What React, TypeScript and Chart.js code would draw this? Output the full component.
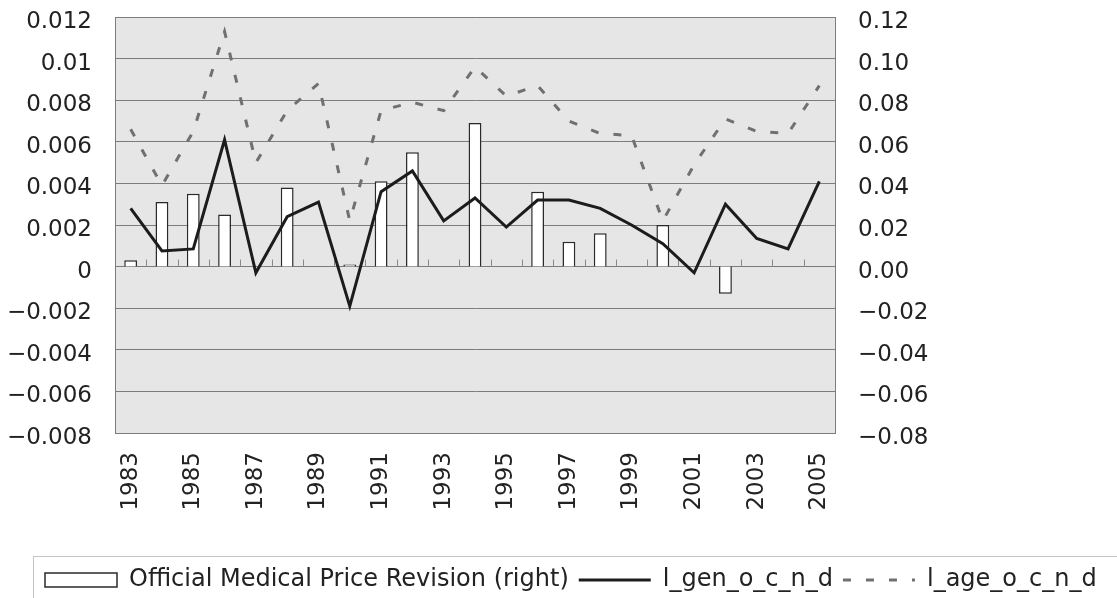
import React, { useEffect, useRef } from 'react';
import { Chart, registerables } from 'chart.js';

Chart.register(...registerables);

const years = ['1983', '1984', '1985', '1986', '1987', '1988', '1989', '1990', '1991', '1992', '1993', '1994', '1995', '1996', '1997', '1998', '1999', '2000', '2001', '2002', '2003', '2004', '2005'];

// Official Medical Price Revision (right axis)
const priceRevision = [0.003, 0.031, 0.035, 0.025, null, 0.038, null, 0.001, 0.041, 0.055, null, 0.069, null, 0.036, 0.012, 0.016, null, 0.020, null, -0.013, null, null, null];

// l_gen_o_c_n_d (left axis)
const lGen = [0.0028, 0.00075, 0.00085, 0.0061, -0.0003, 0.0024, 0.0031, -0.0019, 0.0036, 0.0046, 0.0022, 0.0033, 0.0019, 0.0032, 0.0032, 0.0028, 0.002, 0.0011, -0.0003, 0.003, 0.00135, 0.00085, 0.0041];

// l_age_o_c_n_d (left axis)
const lAge = [0.0066, 0.0039, 0.0065, 0.0113, 0.005, 0.0075, 0.0088, 0.0022, 0.0075, 0.0079, 0.0075, 0.0096, 0.0082, 0.0087, 0.007, 0.0064, 0.0063, 0.0022, 0.0049, 0.0071, 0.0065, 0.0064, 0.0087];

const leftTickValues = [-0.008, -0.006, -0.004, -0.002, 0, 0.002, 0.004, 0.006, 0.008, 0.01, 0.012];
const leftTickLabels = ['\u22120.008', '\u22120.006', '\u22120.004', '\u22120.002', '0', '0.002', '0.004', '0.006', '0.008', '0.01', '0.012'];
const rightTickValues = [-0.08, -0.06, -0.04, -0.02, 0, 0.02, 0.04, 0.06, 0.08, 0.1, 0.12];
const rightTickLabels = ['\u22120.08', '\u22120.06', '\u22120.04', '\u22120.02', '0.00', '0.02', '0.04', '0.06', '0.08', '0.10', '0.12'];

const seriesLabels = ['Official Medical Price Revision (right)', 'l_gen_o_c_n_d', 'l_age_o_c_n_d'];

const FONT = '"DejaVu Sans", "Liberation Sans", sans-serif';
const GRID = '#7c7c7c';
const TEXT = '#222222';

const plotBackground = {
  id: 'plotBackground',
  beforeDraw(chart: any) {
    const { ctx, chartArea } = chart;
    ctx.save();
    ctx.fillStyle = '#e6e6e6';
    ctx.fillRect(chartArea.left, chartArea.top, chartArea.right - chartArea.left, chartArea.bottom - chartArea.top);
    ctx.restore();
  },
};

const zeroTicks = {
  id: 'zeroTicks',
  beforeDatasetsDraw(chart: any) {
    const { ctx } = chart;
    const xs = chart.scales.x;
    const ys = chart.scales.y;
    const step = xs.getPixelForValue(1) - xs.getPixelForValue(0);
    const y0 = ys.getPixelForValue(0);
    ctx.save();
    ctx.strokeStyle = '#8a8a8a';
    ctx.lineWidth = 1;
    ctx.beginPath();
    for (let i = 1; i < years.length; i++) {
      const x = Math.round(xs.getPixelForValue(i) - step / 2) + 0.5;
      ctx.moveTo(x, y0);
      ctx.lineTo(x, y0 - 7);
    }
    ctx.stroke();
    ctx.restore();
  },
};

const legendShift = {
  id: 'legendShift',
  afterLayout(chart: any) {
    if (chart.legend) chart.legend.left = 35;
  },
};

const legendFrame = {
  id: 'legendFrame',
  afterDraw(chart: any) {
    const lg = chart.legend;
    if (!lg) return;
    const { ctx } = chart;
    ctx.save();
    ctx.strokeStyle = '#c4c4c4';
    ctx.lineWidth = 1;
    ctx.strokeRect(33.5, Math.round(lg.top) - 1.5, 1300, 200);
    ctx.restore();
  },
};

export default function App() {
  const canvasRef = useRef<HTMLCanvasElement | null>(null);

  useEffect(() => {
    if (!canvasRef.current) return;
    const chart = new Chart(canvasRef.current, {
      type: 'bar',
      data: {
        labels: years,
        datasets: [
          {
            type: 'bar',
            label: seriesLabels[0],
            data: priceRevision,
            yAxisID: 'y1',
            backgroundColor: '#ffffff',
            borderColor: '#2a2a2a',
            borderWidth: 1.5,
            barPercentage: 0.41,
            categoryPercentage: 1,
            order: 2,
            legendStyle: 'rect',
            legendFill: '#ffffff',
            legendLineWidth: 1.5,
          } as any,
          {
            type: 'line',
            label: seriesLabels[1],
            data: lGen,
            yAxisID: 'y',
            borderColor: '#1c1c1c',
            backgroundColor: '#1c1c1c',
            borderWidth: 3,
            pointRadius: 0,
            tension: 0,
            order: 0,
            legendStyle: 'line',
            legendFill: 'rgba(0,0,0,0)',
            legendLineWidth: 3,
          } as any,
          {
            type: 'line',
            label: seriesLabels[2],
            data: lAge,
            yAxisID: 'y',
            borderColor: '#707070',
            backgroundColor: '#707070',
            borderWidth: 3,
            borderDash: [8, 15],
            pointRadius: 0,
            tension: 0,
            order: 1,
            legendStyle: 'line',
            legendFill: 'rgba(0,0,0,0)',
            legendLineWidth: 3,
          } as any,
        ],
      },
      options: {
        animation: false,
        responsive: false,
        devicePixelRatio: 1,
        layout: { padding: { left: 0, top: 17, right: 0, bottom: 0 } },
        plugins: {
          tooltip: { enabled: false },
          legend: {
            position: 'bottom',
            align: 'start',
            labels: {
              usePointStyle: true,
              pointStyleWidth: 72,
              boxHeight: 14,
              padding: 10,
              color: TEXT,
              font: { family: FONT, size: 24 },
              generateLabels: (c: any) =>
                c.data.datasets.map((ds: any, i: number) => ({
                  text: ds.label,
                  fillStyle: ds.legendFill,
                  strokeStyle: ds.borderColor,
                  lineWidth: ds.legendLineWidth,
                  lineDash: ds.borderDash || [],
                  pointStyle: ds.legendStyle,
                  hidden: false,
                  datasetIndex: i,
                  fontColor: TEXT,
                })),
            },
          },
        },
        scales: {
          x: {
            grid: { display: false, drawTicks: false },
            border: { display: true, color: GRID },
            ticks: {
              autoSkip: false,
              maxRotation: 90,
              minRotation: 90,
              padding: 19,
              color: TEXT,
              font: { family: FONT, size: 23 },
              callback: (_v: any, i: number) => (i % 2 === 0 ? years[i] : ''),
            },
            afterFit: (s: any) => {
              s.height = 125;
            },
          },
          y: {
            position: 'left',
            min: -0.008,
            max: 0.012,
            afterBuildTicks: (s: any) => {
              s.ticks = leftTickValues.map((v) => ({ value: v }));
            },
            grid: { color: GRID, lineWidth: 1, drawTicks: false },
            border: { display: true, color: GRID },
            ticks: {
              padding: 23,
              labelOffset: 5,
              color: TEXT,
              font: { family: FONT, size: 23 },
              callback: (_v: any, i: number) => leftTickLabels[i],
            },
            afterFit: (s: any) => {
              s.width = 115;
              s.paddingTop = 10;
              s.paddingBottom = 10;
            },
          },
          y1: {
            position: 'right',
            min: -0.08,
            max: 0.12,
            afterBuildTicks: (s: any) => {
              s.ticks = rightTickValues.map((v) => ({ value: v }));
            },
            grid: { display: false, drawTicks: false },
            border: { display: true, color: GRID },
            ticks: {
              padding: 23,
              labelOffset: 5,
              color: TEXT,
              font: { family: FONT, size: 23 },
              callback: (_v: any, i: number) => rightTickLabels[i],
            },
            afterFit: (s: any) => {
              s.width = 282;
              s.paddingTop = 10;
              s.paddingBottom = 10;
            },
          },
        },
      } as any,
      plugins: [plotBackground, zeroTicks, legendShift, legendFrame],
    });
    return () => chart.destroy();
  }, []);

  return (
    <div style={{ position: 'fixed', left: 0, top: 0, width: 1117, height: 602, background: '#ffffff' }}>
      <canvas ref={canvasRef} width={1117} height={602} style={{ display: 'block' }} />
    </div>
  );
}
